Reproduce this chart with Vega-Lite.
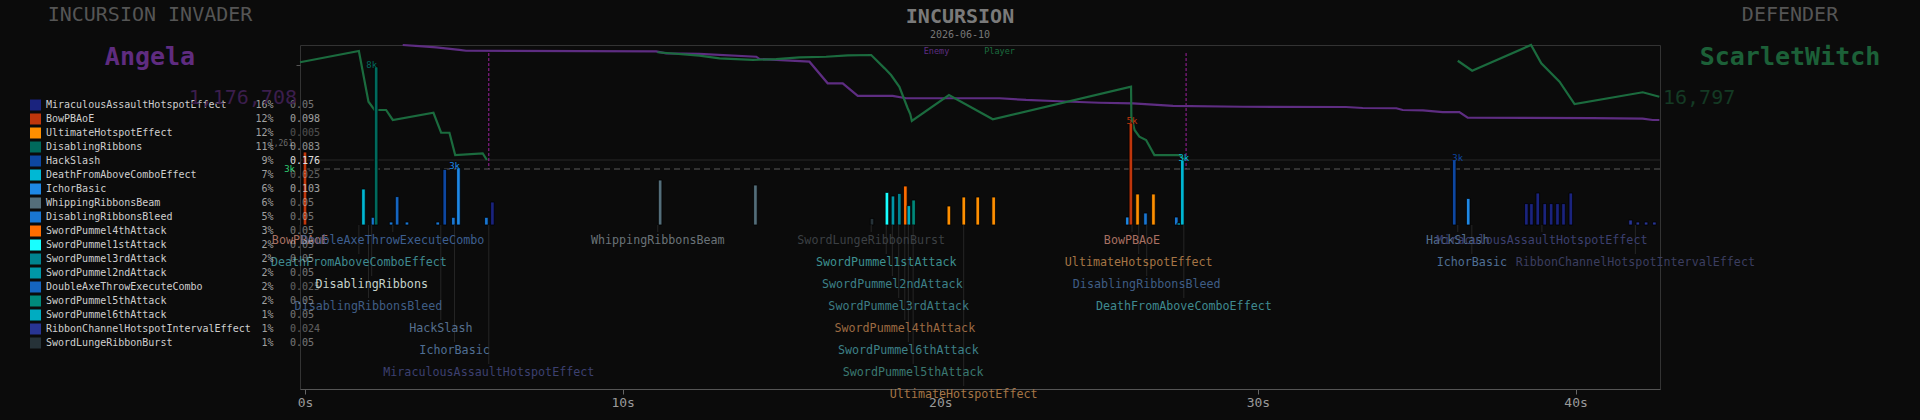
{
  "$schema": "https://vega.github.io/schema/vega-lite/v6.json",
  "width": 1360,
  "height": 344,
  "autosize": {"type": "none"},
  "padding": {"left": 300, "top": 45, "right": 260, "bottom": 31},
  "background": "#0b0b0b",
  "config": {"view": {"stroke": "#333333", "strokeWidth": 1}, "text": {"font": "DejaVu Sans Mono"}, "axis": {"grid": false}},
  "datasets": {
    "hp": [
      {"series": "Enemy", "seg": "E", "t": 3.21, "hp": 100},
      {"series": "Enemy", "seg": "E", "t": 3.73, "hp": 99.1},
      {"series": "Enemy", "seg": "E", "t": 4.26, "hp": 98.0},
      {"series": "Enemy", "seg": "E", "t": 4.98, "hp": 95.7},
      {"series": "Enemy", "seg": "E", "t": 5.19, "hp": 95.0},
      {"series": "Enemy", "seg": "E", "t": 11.13, "hp": 94.5},
      {"series": "Enemy", "seg": "E", "t": 11.44, "hp": 92.8},
      {"series": "Enemy", "seg": "E", "t": 12.48, "hp": 92.2},
      {"series": "Enemy", "seg": "E", "t": 14.26, "hp": 89.8},
      {"series": "Enemy", "seg": "E", "t": 14.36, "hp": 87.8},
      {"series": "Enemy", "seg": "E", "t": 15.92, "hp": 85.5},
      {"series": "Enemy", "seg": "E", "t": 16.49, "hp": 66.7},
      {"series": "Enemy", "seg": "E", "t": 16.96, "hp": 66.7},
      {"series": "Enemy", "seg": "E", "t": 17.43, "hp": 55.7},
      {"series": "Enemy", "seg": "E", "t": 18.52, "hp": 55.7},
      {"series": "Enemy", "seg": "E", "t": 18.94, "hp": 53.7},
      {"series": "Enemy", "seg": "E", "t": 21.86, "hp": 53.7},
      {"series": "Enemy", "seg": "E", "t": 22.69, "hp": 52.2},
      {"series": "Enemy", "seg": "E", "t": 23.52, "hp": 51.3},
      {"series": "Enemy", "seg": "E", "t": 24.98, "hp": 49.8},
      {"series": "Enemy", "seg": "E", "t": 26.03, "hp": 49.3},
      {"series": "Enemy", "seg": "E", "t": 27.28, "hp": 47.0},
      {"series": "Enemy", "seg": "E", "t": 29.46, "hp": 46.3},
      {"series": "Enemy", "seg": "E", "t": 32.69, "hp": 46.1},
      {"series": "Enemy", "seg": "E", "t": 33.21, "hp": 45.2},
      {"series": "Enemy", "seg": "E", "t": 34.26, "hp": 45.0},
      {"series": "Enemy", "seg": "E", "t": 34.46, "hp": 43.5},
      {"series": "Enemy", "seg": "E", "t": 35.09, "hp": 43.2},
      {"series": "Enemy", "seg": "E", "t": 35.71, "hp": 41.7},
      {"series": "Enemy", "seg": "E", "t": 36.23, "hp": 41.7},
      {"series": "Enemy", "seg": "E", "t": 36.49, "hp": 36.8},
      {"series": "Enemy", "seg": "E", "t": 40.40, "hp": 36.5},
      {"series": "Enemy", "seg": "E", "t": 41.96, "hp": 35.9},
      {"series": "Enemy", "seg": "E", "t": 42.27, "hp": 34.8},
      {"series": "Enemy", "seg": "E", "t": 42.48, "hp": 34.8},
      {"series": "Player", "seg": "P1", "t": 0.0, "hp": 85.0},
      {"series": "Player", "seg": "P1", "t": 1.84, "hp": 94.8},
      {"series": "Player", "seg": "P1", "t": 2.14, "hp": 50.7},
      {"series": "Player", "seg": "P1", "t": 2.33, "hp": 43.5},
      {"series": "Player", "seg": "P1", "t": 2.69, "hp": 43.5},
      {"series": "Player", "seg": "P1", "t": 2.90, "hp": 34.8},
      {"series": "Player", "seg": "P1", "t": 4.17, "hp": 41.1},
      {"series": "Player", "seg": "P1", "t": 4.41, "hp": 23.7},
      {"series": "Player", "seg": "P1", "t": 4.67, "hp": 23.7},
      {"series": "Player", "seg": "P1", "t": 4.85, "hp": 4.3},
      {"series": "Player", "seg": "P1", "t": 5.71, "hp": 5.8},
      {"series": "Player", "seg": "P1", "t": 5.84, "hp": 0},
      {"series": "Player", "seg": "P2", "t": 11.17, "hp": 93.7},
      {"series": "Player", "seg": "P2", "t": 12.48, "hp": 90.7},
      {"series": "Player", "seg": "P2", "t": 13.11, "hp": 88.4},
      {"series": "Player", "seg": "P2", "t": 14.15, "hp": 87.0},
      {"series": "Player", "seg": "P2", "t": 14.88, "hp": 87.8},
      {"series": "Player", "seg": "P2", "t": 15.61, "hp": 89.3},
      {"series": "Player", "seg": "P2", "t": 16.44, "hp": 89.8},
      {"series": "Player", "seg": "P2", "t": 17.12, "hp": 91.0},
      {"series": "Player", "seg": "P2", "t": 17.85, "hp": 91.3},
      {"series": "Player", "seg": "P2", "t": 18.27, "hp": 79.7},
      {"series": "Player", "seg": "P2", "t": 18.47, "hp": 73.9},
      {"series": "Player", "seg": "P2", "t": 18.73, "hp": 63.7},
      {"series": "Player", "seg": "P2", "t": 18.99, "hp": 45.0},
      {"series": "Player", "seg": "P2", "t": 19.07, "hp": 40.0},
      {"series": "Player", "seg": "P2", "t": 19.12, "hp": 33.9},
      {"series": "Player", "seg": "P2", "t": 20.28, "hp": 56.5},
      {"series": "Player", "seg": "P2", "t": 21.65, "hp": 35.4},
      {"series": "Player", "seg": "P2", "t": 25.97, "hp": 63.7},
      {"series": "Player", "seg": "P2", "t": 25.98, "hp": 37.7},
      {"series": "Player", "seg": "P2", "t": 26.08, "hp": 26.1},
      {"series": "Player", "seg": "P2", "t": 26.23, "hp": 20.3},
      {"series": "Player", "seg": "P2", "t": 26.44, "hp": 17.4},
      {"series": "Player", "seg": "P2", "t": 26.70, "hp": 4.3},
      {"series": "Player", "seg": "P2", "t": 27.48, "hp": 4.3},
      {"series": "Player", "seg": "P2", "t": 27.64, "hp": 0},
      {"series": "Player", "seg": "P3", "t": 36.18, "hp": 86.3},
      {"series": "Player", "seg": "P3", "t": 36.63, "hp": 77.7},
      {"series": "Player", "seg": "P3", "t": 38.47, "hp": 100},
      {"series": "Player", "seg": "P3", "t": 38.79, "hp": 84.1},
      {"series": "Player", "seg": "P3", "t": 39.36, "hp": 68.1},
      {"series": "Player", "seg": "P3", "t": 39.83, "hp": 48.7},
      {"series": "Player", "seg": "P3", "t": 41.96, "hp": 58.9},
      {"series": "Player", "seg": "P3", "t": 42.48, "hp": 55.0}
    ],
    "bars": [
      {"t": 0.0, "dmg": 3650, "ability": "BowPBAoE"},
      {"t": 1.84, "dmg": 1800, "ability": "DeathFromAboveComboEffect"},
      {"t": 2.14, "dmg": 385, "ability": "DisablingRibbonsBleed"},
      {"t": 2.24, "dmg": 7900, "ability": "DisablingRibbons"},
      {"t": 2.71, "dmg": 150, "ability": "DisablingRibbonsBleed"},
      {"t": 2.90, "dmg": 1420, "ability": "DoubleAxeThrowExecuteCombo"},
      {"t": 3.21, "dmg": 150, "ability": "DisablingRibbonsBleed"},
      {"t": 4.18, "dmg": 150, "ability": "DisablingRibbonsBleed"},
      {"t": 4.40, "dmg": 2780, "ability": "HackSlash"},
      {"t": 4.67, "dmg": 385, "ability": "DisablingRibbonsBleed"},
      {"t": 4.83, "dmg": 2850, "ability": "IchorBasic"},
      {"t": 5.71, "dmg": 385, "ability": "DisablingRibbonsBleed"},
      {"t": 5.90, "dmg": 1150, "ability": "MiraculousAssaultHotspotEffect"},
      {"t": 11.18, "dmg": 2250, "ability": "WhippingRibbonsBeam"},
      {"t": 14.18, "dmg": 2000, "ability": "WhippingRibbonsBeam"},
      {"t": 17.85, "dmg": 330, "ability": "SwordLungeRibbonBurst"},
      {"t": 18.32, "dmg": 1630, "ability": "SwordPummel1stAttack"},
      {"t": 18.51, "dmg": 1450, "ability": "SwordPummel2ndAttack"},
      {"t": 18.71, "dmg": 1580, "ability": "SwordPummel3rdAttack"},
      {"t": 18.90, "dmg": 1950, "ability": "SwordPummel4thAttack"},
      {"t": 19.01, "dmg": 970, "ability": "SwordPummel6thAttack"},
      {"t": 19.16, "dmg": 1250, "ability": "SwordPummel5thAttack"},
      {"t": 20.27, "dmg": 950, "ability": "UltimateHotspotEffect"},
      {"t": 20.74, "dmg": 1400, "ability": "UltimateHotspotEffect"},
      {"t": 21.18, "dmg": 1400, "ability": "UltimateHotspotEffect"},
      {"t": 21.68, "dmg": 1400, "ability": "UltimateHotspotEffect"},
      {"t": 25.89, "dmg": 400, "ability": "IchorBasic"},
      {"t": 26.00, "dmg": 5100, "ability": "BowPBAoE"},
      {"t": 26.21, "dmg": 1550, "ability": "UltimateHotspotEffect"},
      {"t": 26.46, "dmg": 600, "ability": "DisablingRibbonsBleed"},
      {"t": 26.71, "dmg": 1550, "ability": "UltimateHotspotEffect"},
      {"t": 27.43, "dmg": 400, "ability": "DisablingRibbonsBleed"},
      {"t": 27.51, "dmg": 100, "ability": "DeathFromAboveComboEffect"},
      {"t": 27.62, "dmg": 3250, "ability": "DeathFromAboveComboEffect"},
      {"t": 36.18, "dmg": 3250, "ability": "HackSlash"},
      {"t": 36.62, "dmg": 1330, "ability": "IchorBasic"},
      {"t": 38.45, "dmg": 1070, "ability": "MiraculousAssaultHotspotEffect"},
      {"t": 38.61, "dmg": 1070, "ability": "MiraculousAssaultHotspotEffect"},
      {"t": 38.81, "dmg": 1600, "ability": "MiraculousAssaultHotspotEffect"},
      {"t": 39.03, "dmg": 1070, "ability": "MiraculousAssaultHotspotEffect"},
      {"t": 39.23, "dmg": 1070, "ability": "MiraculousAssaultHotspotEffect"},
      {"t": 39.43, "dmg": 1070, "ability": "MiraculousAssaultHotspotEffect"},
      {"t": 39.62, "dmg": 1070, "ability": "MiraculousAssaultHotspotEffect"},
      {"t": 39.85, "dmg": 1600, "ability": "MiraculousAssaultHotspotEffect"},
      {"t": 41.73, "dmg": 250, "ability": "RibbonChannelHotspotIntervalEffect"},
      {"t": 41.96, "dmg": 150, "ability": "RibbonChannelHotspotIntervalEffect"},
      {"t": 42.22, "dmg": 150, "ability": "RibbonChannelHotspotIntervalEffect"},
      {"t": 42.48, "dmg": 150, "ability": "RibbonChannelHotspotIntervalEffect"}
    ],
    "events": [
      {"t": 0.0, "ability": "BowPBAoE", "row": 1},
      {"t": 2.90, "ability": "DoubleAxeThrowExecuteCombo", "row": 1},
      {"t": 1.84, "ability": "DeathFromAboveComboEffect", "row": 2},
      {"t": 2.24, "ability": "DisablingRibbons", "row": 3},
      {"t": 2.14, "ability": "DisablingRibbonsBleed", "row": 4},
      {"t": 4.40, "ability": "HackSlash", "row": 5},
      {"t": 4.83, "ability": "IchorBasic", "row": 6},
      {"t": 5.90, "ability": "MiraculousAssaultHotspotEffect", "row": 7},
      {"t": 11.18, "ability": "WhippingRibbonsBeam", "row": 1},
      {"t": 17.85, "ability": "SwordLungeRibbonBurst", "row": 1},
      {"t": 18.32, "ability": "SwordPummel1stAttack", "row": 2},
      {"t": 18.51, "ability": "SwordPummel2ndAttack", "row": 3},
      {"t": 18.71, "ability": "SwordPummel3rdAttack", "row": 4},
      {"t": 18.90, "ability": "SwordPummel4thAttack", "row": 5},
      {"t": 19.01, "ability": "SwordPummel6thAttack", "row": 6},
      {"t": 19.16, "ability": "SwordPummel5thAttack", "row": 7},
      {"t": 20.74, "ability": "UltimateHotspotEffect", "row": 8},
      {"t": 26.00, "ability": "BowPBAoE", "row": 1},
      {"t": 26.21, "ability": "UltimateHotspotEffect", "row": 2},
      {"t": 26.46, "ability": "DisablingRibbonsBleed", "row": 3},
      {"t": 27.62, "ability": "DeathFromAboveComboEffect", "row": 4},
      {"t": 36.18, "ability": "HackSlash", "row": 1},
      {"t": 38.81, "ability": "MiraculousAssaultHotspotEffect", "row": 1},
      {"t": 36.62, "ability": "IchorBasic", "row": 2},
      {"t": 41.73, "ability": "RibbonChannelHotspotIntervalEffect", "row": 2}
    ],
    "legend": [
      {"ability": "MiraculousAssaultHotspotEffect", "pct": 0.16, "val": 0.05},
      {"ability": "BowPBAoE", "pct": 0.12, "val": 0.098},
      {"ability": "UltimateHotspotEffect", "pct": 0.12, "val": 0.005},
      {"ability": "DisablingRibbons", "pct": 0.11, "val": 0.083},
      {"ability": "HackSlash", "pct": 0.09, "val": 0.176},
      {"ability": "DeathFromAboveComboEffect", "pct": 0.07, "val": 0.025},
      {"ability": "IchorBasic", "pct": 0.06, "val": 0.103},
      {"ability": "WhippingRibbonsBeam", "pct": 0.06, "val": 0.05},
      {"ability": "DisablingRibbonsBleed", "pct": 0.05, "val": 0.05},
      {"ability": "SwordPummel4thAttack", "pct": 0.03, "val": 0.05},
      {"ability": "SwordPummel1stAttack", "pct": 0.02, "val": 0.05},
      {"ability": "SwordPummel3rdAttack", "pct": 0.02, "val": 0.05},
      {"ability": "SwordPummel2ndAttack", "pct": 0.02, "val": 0.05},
      {"ability": "DoubleAxeThrowExecuteCombo", "pct": 0.02, "val": 0.025},
      {"ability": "SwordPummel5thAttack", "pct": 0.02, "val": 0.05},
      {"ability": "SwordPummel6thAttack", "pct": 0.01, "val": 0.05},
      {"ability": "RibbonChannelHotspotIntervalEffect", "pct": 0.01, "val": 0.024},
      {"ability": "SwordLungeRibbonBurst", "pct": 0.01, "val": 0.05}
    ],
    "heads": [
      {"side": "invader", "slot": "role", "text": "INCURSION INVADER"},
      {"side": "invader", "slot": "name", "text": "Angela"},
      {"side": "invader", "slot": "total", "text": "1,176,708"},
      {"side": "defender", "slot": "role", "text": "DEFENDER"},
      {"side": "defender", "slot": "name", "text": "ScarletWitch"},
      {"side": "defender", "slot": "total", "text": "16,797"},
      {"side": "center", "slot": "title", "text": "INCURSION"},
      {"side": "center", "slot": "date", "text": "2026-06-10"}
    ]
  },
  "resolve": {"scale": {"x": "independent", "y": "independent", "color": "independent"}},
  "layer": [
    {
      "data": {"values": [{"hp": 0}]},
      "mark": {"type": "rule", "color": "#282828", "strokeWidth": 1},
      "encoding": {"y": {"field": "hp", "type": "quantitative", "scale": {"domain": [0, 100], "range": [115, 0], "nice": false}, "axis": null}}
    },
    {
      "data": {"values": [{"t": 5.90}, {"t": 27.69}]},
      "mark": {"type": "rule", "color": "#a020a0", "strokeDash": [3, 2], "strokeWidth": 1},
      "encoding": {
        "x": {"field": "t", "type": "quantitative", "scale": {"domain": [0, 42.5], "nice": false, "zero": false}, "axis": null},
        "y": {"datum": 93, "type": "quantitative", "scale": {"domain": [0, 100], "range": [115, 0], "nice": false}, "axis": null},
        "y2": {"datum": -8}
      }
    },
    {
      "data": {"name": "hp"},
      "mark": {"type": "line", "strokeWidth": 2.2},
      "encoding": {
        "x": {"field": "t", "type": "quantitative", "scale": {"domain": [0, 42.5], "nice": false, "zero": false}, "axis": null},
        "y": {"field": "hp", "type": "quantitative", "scale": {"domain": [0, 100], "range": [115, 0], "nice": false}, "axis": {"orient": "left", "values": [82.6], "labels": false, "domain": false, "ticks": true, "tickColor": "#555555", "tickSize": 4, "title": null, "grid": false}},
        "color": {"field": "series", "type": "nominal", "scale": {"domain": ["Enemy", "Player"], "range": ["#5e2d82", "#1b6b3e"]}, "legend": null},
        "detail": {"field": "seg", "type": "nominal"}
      }
    },
    {
      "data": {"values": [{"series": "Enemy", "t": 19.89, "hp": 94.8}]},
      "mark": {"type": "text", "fontSize": 8.5, "color": "#5e2d82", "align": "center", "baseline": "middle"},
      "encoding": {
        "x": {"field": "t", "type": "quantitative", "scale": {"domain": [0, 42.5], "nice": false, "zero": false}, "axis": null},
        "y": {"field": "hp", "type": "quantitative", "scale": {"domain": [0, 100], "range": [115, 0], "nice": false}, "axis": null},
        "text": {"field": "series", "type": "nominal"}
      }
    },
    {
      "data": {"values": [{"series": "Player", "t": 21.86, "hp": 94.8}]},
      "mark": {"type": "text", "fontSize": 8.5, "color": "#1b6b3e", "align": "center", "baseline": "middle"},
      "encoding": {
        "x": {"field": "t", "type": "quantitative", "scale": {"domain": [0, 42.5], "nice": false, "zero": false}, "axis": null},
        "y": {"field": "hp", "type": "quantitative", "scale": {"domain": [0, 100], "range": [115, 0], "nice": false}, "axis": null},
        "text": {"field": "series", "type": "nominal"}
      }
    },
    {
      "data": {"values": [{"thr": 2800}]},
      "mark": {"type": "rule", "color": "#5a5a5a", "strokeDash": [6, 4], "strokeWidth": 1},
      "encoding": {"y": {"field": "thr", "type": "quantitative", "scale": {"domain": [0, 9000], "range": [180, 0], "nice": false}, "axis": null}}
    },
    {
      "data": {"values": [{"thr": 2800, "t": 0}]},
      "mark": {"type": "text", "fontSize": 9, "color": "#2ecc71", "align": "right", "baseline": "middle", "dx": -5},
      "encoding": {
        "x": {"field": "t", "type": "quantitative", "scale": {"domain": [0, 42.5], "nice": false, "zero": false}, "axis": null},
        "y": {"field": "thr", "type": "quantitative", "scale": {"domain": [0, 9000], "range": [180, 0], "nice": false}, "axis": null},
        "text": {"field": "thr", "type": "quantitative", "format": ".0s"}
      }
    },
    {
      "data": {"values": [{"t": 0, "dmg": 3650, "note": "1,261"}]},
      "mark": {"type": "text", "fontSize": 8, "color": "#6a6a6a", "align": "right", "baseline": "bottom", "dx": -7, "dy": -4},
      "encoding": {
        "x": {"field": "t", "type": "quantitative", "scale": {"domain": [0, 42.5], "nice": false, "zero": false}, "axis": null},
        "y": {"field": "dmg", "type": "quantitative", "scale": {"domain": [0, 9000], "range": [180, 0], "nice": false}, "axis": null},
        "text": {"field": "note", "type": "nominal"}
      }
    },
    {
      "data": {"name": "bars"},
      "mark": {"type": "bar", "width": 3.6, "stroke": "#000000", "strokeWidth": 0.8},
      "encoding": {
        "x": {"field": "t", "type": "quantitative", "scale": {"domain": [0, 42.5], "nice": false, "zero": false},
          "axis": {"orient": "bottom", "values": [0, 10, 20, 30, 40], "labelExpr": "datum.value + 's'", "labelFlush": false, "labelAlign": "center", "labelBound": false, "grid": false, "title": null, "domainColor": "#555555", "tickColor": "#666666", "labelColor": "#9a9a9a", "labelFont": "DejaVu Sans Mono", "labelFontSize": 13, "tickSize": 5, "labelPadding": 2}},
        "y": {"field": "dmg", "type": "quantitative", "scale": {"domain": [0, 9000], "range": [180, 0], "nice": false}, "axis": null},
        "color": {"field": "ability", "type": "nominal", "legend": null, "scale": {
          "domain": ["MiraculousAssaultHotspotEffect","BowPBAoE","UltimateHotspotEffect","DisablingRibbons","HackSlash","DeathFromAboveComboEffect","IchorBasic","WhippingRibbonsBeam","DisablingRibbonsBleed","SwordPummel4thAttack","SwordPummel1stAttack","SwordPummel3rdAttack","SwordPummel2ndAttack","DoubleAxeThrowExecuteCombo","SwordPummel5thAttack","SwordPummel6thAttack","RibbonChannelHotspotIntervalEffect","SwordLungeRibbonBurst"],
          "range": ["#1a237e","#bf360c","#ff8f00","#00695c","#0d47a1","#00b8d4","#1e88e5","#546e7a","#1976d2","#ff6d00","#18ffff","#00838f","#0097a7","#1565c0","#00897b","#00acc1","#283593","#263238"]}}
      }
    },
    {
      "data": {"name": "bars"},
      "transform": [{"filter": "datum.dmg >= 2800 && datum.t > 0.5"}],
      "mark": {"type": "text", "fontSize": 9, "align": "center", "baseline": "bottom", "dy": 3},
      "encoding": {
        "x": {"field": "t", "type": "quantitative", "scale": {"domain": [0, 42.5], "nice": false, "zero": false}, "axis": null},
        "y": {"field": "dmg", "type": "quantitative", "scale": {"domain": [0, 9000], "range": [180, 0], "nice": false}, "axis": null},
        "text": {"field": "dmg", "type": "quantitative", "format": ".0s"},
        "color": {"field": "ability", "type": "nominal", "legend": null, "scale": {
          "domain": ["MiraculousAssaultHotspotEffect","BowPBAoE","UltimateHotspotEffect","DisablingRibbons","HackSlash","DeathFromAboveComboEffect","IchorBasic","WhippingRibbonsBeam","DisablingRibbonsBleed","SwordPummel4thAttack","SwordPummel1stAttack","SwordPummel3rdAttack","SwordPummel2ndAttack","DoubleAxeThrowExecuteCombo","SwordPummel5thAttack","SwordPummel6thAttack","RibbonChannelHotspotIntervalEffect","SwordLungeRibbonBurst"],
          "range": ["#1a237e","#bf360c","#ff8f00","#00695c","#0d47a1","#00b8d4","#1e88e5","#546e7a","#1976d2","#ff6d00","#18ffff","#00838f","#0097a7","#1565c0","#00897b","#00acc1","#283593","#263238"]}}
      }
    },
    {
      "data": {"name": "events"},
      "mark": {"type": "rule", "color": "#262626", "strokeWidth": 1, "yOffset": -8},
      "encoding": {
        "x": {"field": "t", "type": "quantitative", "scale": {"domain": [0, 42.5], "nice": false, "zero": false}, "axis": null},
        "y": {"field": "row", "type": "quantitative", "scale": {"domain": [1, 8], "range": [195, 349], "nice": false, "zero": false}, "axis": null},
        "y2": {"datum": 0.318}
      }
    },
    {
      "data": {"name": "events"},
      "mark": {"type": "text", "fontSize": 11.7, "align": "center", "baseline": "middle"},
      "encoding": {
        "x": {"field": "t", "type": "quantitative", "scale": {"domain": [0, 42.5], "nice": false, "zero": false}, "axis": null},
        "y": {"field": "row", "type": "quantitative", "scale": {"domain": [1, 8], "range": [195, 349], "nice": false, "zero": false}, "axis": null},
        "text": {"field": "ability", "type": "nominal"},
        "color": {"field": "ability", "type": "nominal", "legend": null, "scale": {
          "domain": ["MiraculousAssaultHotspotEffect","BowPBAoE","UltimateHotspotEffect","DisablingRibbons","HackSlash","DeathFromAboveComboEffect","IchorBasic","WhippingRibbonsBeam","DisablingRibbonsBleed","SwordPummel4thAttack","SwordPummel1stAttack","SwordPummel3rdAttack","SwordPummel2ndAttack","DoubleAxeThrowExecuteCombo","SwordPummel5thAttack","SwordPummel6thAttack","RibbonChannelHotspotIntervalEffect","SwordLungeRibbonBurst"],
          "range": ["#3c4070","#a87062","#a57545","#c5d3cc","#56708f","#3f8a90","#4f6f95","#6a7378","#3f5d85","#9c6a42","#3d9090","#3d7d84","#3d8088","#3d5f90","#3a7870","#3d8088","#3b3e60","#3c4044"]}}
      }
    },
    {
      "data": {"name": "legend"},
      "mark": {"type": "square", "size": 121, "filled": true, "opacity": 1},
      "encoding": {
        "x": {"datum": 35.5, "type": "quantitative", "scale": {"domain": [0, 300], "range": [-300, 0], "nice": false, "zero": false}, "axis": null},
        "y": {"field": "ability", "type": "nominal", "axis": null, "scale": {"type": "point", "padding": 0, "range": [60, 298],
          "domain": ["MiraculousAssaultHotspotEffect","BowPBAoE","UltimateHotspotEffect","DisablingRibbons","HackSlash","DeathFromAboveComboEffect","IchorBasic","WhippingRibbonsBeam","DisablingRibbonsBleed","SwordPummel4thAttack","SwordPummel1stAttack","SwordPummel3rdAttack","SwordPummel2ndAttack","DoubleAxeThrowExecuteCombo","SwordPummel5thAttack","SwordPummel6thAttack","RibbonChannelHotspotIntervalEffect","SwordLungeRibbonBurst"]}},
        "color": {"field": "ability", "type": "nominal", "legend": null, "scale": {
          "domain": ["MiraculousAssaultHotspotEffect","BowPBAoE","UltimateHotspotEffect","DisablingRibbons","HackSlash","DeathFromAboveComboEffect","IchorBasic","WhippingRibbonsBeam","DisablingRibbonsBleed","SwordPummel4thAttack","SwordPummel1stAttack","SwordPummel3rdAttack","SwordPummel2ndAttack","DoubleAxeThrowExecuteCombo","SwordPummel5thAttack","SwordPummel6thAttack","RibbonChannelHotspotIntervalEffect","SwordLungeRibbonBurst"],
          "range": ["#1a237e","#bf360c","#ff8f00","#00695c","#0d47a1","#00b8d4","#1e88e5","#546e7a","#1976d2","#ff6d00","#18ffff","#00838f","#0097a7","#1565c0","#00897b","#00acc1","#283593","#263238"]}}
      }
    },
    {
      "data": {"name": "legend"},
      "mark": {"type": "text", "fontSize": 10, "align": "left", "baseline": "middle", "color": "#cfcfcf"},
      "encoding": {
        "x": {"datum": 46, "type": "quantitative", "scale": {"domain": [0, 300], "range": [-300, 0], "nice": false, "zero": false}, "axis": null},
        "y": {"field": "ability", "type": "nominal", "axis": null, "scale": {"type": "point", "padding": 0, "range": [60, 298],
          "domain": ["MiraculousAssaultHotspotEffect","BowPBAoE","UltimateHotspotEffect","DisablingRibbons","HackSlash","DeathFromAboveComboEffect","IchorBasic","WhippingRibbonsBeam","DisablingRibbonsBleed","SwordPummel4thAttack","SwordPummel1stAttack","SwordPummel3rdAttack","SwordPummel2ndAttack","DoubleAxeThrowExecuteCombo","SwordPummel5thAttack","SwordPummel6thAttack","RibbonChannelHotspotIntervalEffect","SwordLungeRibbonBurst"]}},
        "text": {"field": "ability", "type": "nominal"}
      }
    },
    {
      "data": {"name": "legend"},
      "mark": {"type": "text", "fontSize": 10, "align": "right", "baseline": "middle", "color": "#a0a0a0"},
      "encoding": {
        "x": {"datum": 273.5, "type": "quantitative", "scale": {"domain": [0, 300], "range": [-300, 0], "nice": false, "zero": false}, "axis": null},
        "y": {"field": "ability", "type": "nominal", "axis": null, "scale": {"type": "point", "padding": 0, "range": [60, 298],
          "domain": ["MiraculousAssaultHotspotEffect","BowPBAoE","UltimateHotspotEffect","DisablingRibbons","HackSlash","DeathFromAboveComboEffect","IchorBasic","WhippingRibbonsBeam","DisablingRibbonsBleed","SwordPummel4thAttack","SwordPummel1stAttack","SwordPummel3rdAttack","SwordPummel2ndAttack","DoubleAxeThrowExecuteCombo","SwordPummel5thAttack","SwordPummel6thAttack","RibbonChannelHotspotIntervalEffect","SwordLungeRibbonBurst"]}},
        "text": {"field": "pct", "type": "quantitative", "format": ".0%"}
      }
    },
    {
      "data": {"name": "legend"},
      "mark": {"type": "text", "fontSize": 10, "align": "left", "baseline": "middle", "color": "#e0e0e0"},
      "encoding": {
        "x": {"datum": 290, "type": "quantitative", "scale": {"domain": [0, 300], "range": [-300, 0], "nice": false, "zero": false}, "axis": null},
        "y": {"field": "ability", "type": "nominal", "axis": null, "scale": {"type": "point", "padding": 0, "range": [60, 298],
          "domain": ["MiraculousAssaultHotspotEffect","BowPBAoE","UltimateHotspotEffect","DisablingRibbons","HackSlash","DeathFromAboveComboEffect","IchorBasic","WhippingRibbonsBeam","DisablingRibbonsBleed","SwordPummel4thAttack","SwordPummel1stAttack","SwordPummel3rdAttack","SwordPummel2ndAttack","DoubleAxeThrowExecuteCombo","SwordPummel5thAttack","SwordPummel6thAttack","RibbonChannelHotspotIntervalEffect","SwordLungeRibbonBurst"]}},
        "text": {"field": "val", "type": "nominal"},
        "opacity": {"field": "val", "type": "quantitative", "legend": null, "scale": {"domain": [0, 0.18], "range": [0.3, 1]}}
      }
    },
    {
      "data": {"name": "heads"},
      "transform": [{"filter": "datum.slot === 'role'"}],
      "mark": {"type": "text", "fontSize": 20, "align": "center", "baseline": "middle", "color": "#555555"},
      "encoding": {
        "x": {"field": "side", "type": "nominal", "axis": null, "scale": {"type": "point", "padding": 0, "domain": ["invader", "defender"], "range": [-150, 1490]}},
        "y": {"field": "slot", "type": "nominal", "axis": null, "scale": {"type": "point", "padding": 0, "domain": ["role", "name", "total"], "range": [-30, 53]}},
        "text": {"field": "text", "type": "nominal"}
      }
    },
    {
      "data": {"name": "heads"},
      "transform": [{"filter": "datum.slot === 'name'"}],
      "mark": {"type": "text", "fontSize": 25, "fontWeight": "bold", "align": "center", "baseline": "middle"},
      "encoding": {
        "x": {"field": "side", "type": "nominal", "axis": null, "scale": {"type": "point", "padding": 0, "domain": ["invader", "defender"], "range": [-150, 1490]}},
        "y": {"field": "slot", "type": "nominal", "axis": null, "scale": {"type": "point", "padding": 0, "domain": ["role", "name", "total"], "range": [-30, 53]}},
        "text": {"field": "text", "type": "nominal"},
        "color": {"field": "side", "type": "nominal", "legend": null, "scale": {"domain": ["invader", "defender"], "range": ["#5f2c80", "#1c6038"]}}
      }
    },
    {
      "data": {"name": "heads"},
      "transform": [{"filter": "datum.slot === 'total' && datum.side === 'invader'"}],
      "mark": {"type": "text", "fontSize": 20, "align": "right", "baseline": "middle", "dx": 147, "color": "#3b1e4d"},
      "encoding": {
        "x": {"field": "side", "type": "nominal", "axis": null, "scale": {"type": "point", "padding": 0, "domain": ["invader", "defender"], "range": [-150, 1490]}},
        "y": {"field": "slot", "type": "nominal", "axis": null, "scale": {"type": "point", "padding": 0, "domain": ["role", "name", "total"], "range": [-30, 53]}},
        "text": {"field": "text", "type": "nominal"}
      }
    },
    {
      "data": {"name": "heads"},
      "transform": [{"filter": "datum.slot === 'total' && datum.side === 'defender'"}],
      "mark": {"type": "text", "fontSize": 20, "align": "left", "baseline": "middle", "dx": -127, "color": "#143a24"},
      "encoding": {
        "x": {"field": "side", "type": "nominal", "axis": null, "scale": {"type": "point", "padding": 0, "domain": ["invader", "defender"], "range": [-150, 1490]}},
        "y": {"field": "slot", "type": "nominal", "axis": null, "scale": {"type": "point", "padding": 0, "domain": ["role", "name", "total"], "range": [-30, 53]}},
        "text": {"field": "text", "type": "nominal"}
      }
    },
    {
      "data": {"name": "heads"},
      "transform": [{"filter": "datum.slot === 'title'"}],
      "mark": {"type": "text", "fontSize": 20, "fontWeight": "bold", "align": "center", "baseline": "middle", "dx": -10, "color": "#7a7a7a"},
      "encoding": {
        "x": {"field": "side", "type": "nominal", "axis": null, "scale": {"type": "point", "padding": 0, "domain": ["invader", "center", "defender"], "range": [-150, 1490]}},
        "y": {"field": "slot", "type": "nominal", "axis": null, "scale": {"type": "point", "padding": 0, "domain": ["title", "date"], "range": [-28, -10]}},
        "text": {"field": "text", "type": "nominal"}
      }
    },
    {
      "data": {"name": "heads"},
      "transform": [{"filter": "datum.slot === 'date'"}],
      "mark": {"type": "text", "fontSize": 10, "align": "center", "baseline": "middle", "dx": -10, "color": "#777777"},
      "encoding": {
        "x": {"field": "side", "type": "nominal", "axis": null, "scale": {"type": "point", "padding": 0, "domain": ["invader", "center", "defender"], "range": [-150, 1490]}},
        "y": {"field": "slot", "type": "nominal", "axis": null, "scale": {"type": "point", "padding": 0, "domain": ["title", "date"], "range": [-28, -10]}},
        "text": {"field": "text", "type": "nominal"}
      }
    }
  ]
}
